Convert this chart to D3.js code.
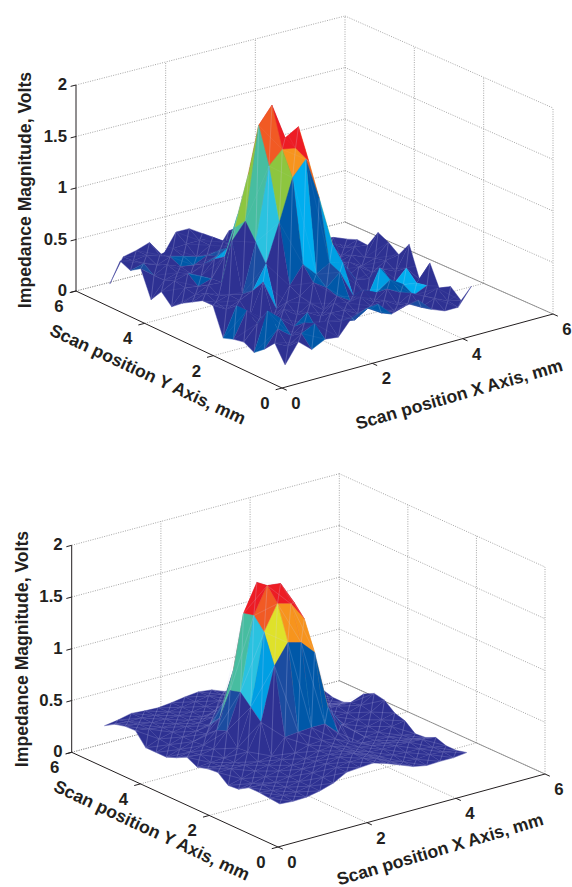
<!DOCTYPE html>
<html><head><meta charset="utf-8">
<script src="https://cdn.jsdelivr.net/npm/d3@7"></script>
<style>html,body{margin:0;padding:0;background:#fff}svg{display:block}text{font-family:"Liberation Sans",Arial,sans-serif;font-weight:bold;fill:#231f20}</style>
</head><body><svg id="c" width="572" height="887"></svg>
<script>
// ---------- DATA ----------
const axisTicks = [0,2,4,6];
const zTicks = [0,0.5,1,1.5,2];
const zTickLabels = ["0","0.5","1","1.5","2"];
const xTitle = "Scan position X Axis, mm";
const yTitle = "Scan position Y Axis, mm";
const zTitle = "Impedance Magnitude, Volts";

const scanX1 = [.67,.965,1.26,1.555,1.85,2.145,2.44,2.735,3.03,3.325,3.62,3.915,4.21,4.505,4.8];
const scanY1 = [.79,1.09,1.39,1.69,1.99,2.29,2.59,2.89,3.19,3.49,3.79,4.09,4.39,4.69,4.99,5.29,5.59,5.89];
const scanX2 = [1.19,1.49,1.79,2.09,2.39,2.69,2.99,3.29,3.59,3.89,4.19,4.49,4.79,5.09,5.39];
const scanY2 = [1.49,1.79,2.09,2.39,2.69,2.99,3.29,3.59,3.89,4.19,4.49,4.79,5.09,5.39,5.69,5.99,6.29,6.59];

// raw scan: rows follow scanY1, columns follow scanX1
const rawZ = [
[.02,.21,.10,.165,.15,.30,.35,.365,.235,.275,.30,.175,.125,.125,.295],
[.185,.12,.21,.27,.26,.22,.2,.28,.2,.18,.22,.15,.2,.14,.11],
[.08,.24,.14,.23,.12,.26,.25,.18,.22,.24,.16,.24,.18,.22,.2],
[.0,.37,.26,.15,.25,.18,.27,.24,.26,.18,.27,.2,.14,.2,.11],
[.055,.2,.12,.27,.18,.26,.16,.26,.18,.25,.19,.28,.2,.18,.34],
[.035,.28,.18,.14,.26,.28,.38,.295,.41,.15,.08,.35,.15,.28,.135],
[.0,.28,.14,.44,.148,.336,.51,.38,.457,.42,.22,.2,.26,.2,.43],
[.27,.2,.25,.31,.535,.905,1.306,1.45,1.04,.556,.2,.27,.18,.26,.285],
[.27,.22,.26,.23,.70,1.407,1.534,1.51,1.35,.3,.22,.27,.2,.24,.36],
[.21,.26,.2,.7,.86,1.755,1.917,1.565,1.64,.7,.25,.22,.26,.2,.41],
[.15,.2,.26,.25,.75,1.23,1.4,1.1,1.0,.5,.22,.25,.2,.26,.24],
[.07,.22,.2,.24,.42,.80,.85,.8,.6,.3,.2,.22,.28,.2,.25],
[.17,.24,.28,.22,.35,.42,.6,.5,.35,.28,.22,.2,.18,.26,.21],
[.045,.2,.24,.2,.26,.3,.35,.3,.3,.26,.24,.2,.26,.2,.1],
[.3,.2,.27,.22,.2,.26,.28,.28,.24,.28,.22,.26,.2,.24,.15],
[.235,.27,.22,.27,.24,.2,.28,.28,.28,.22,.26,.22,.26,.2,.2],
[.28,.25,.27,.24,.27,.28,.28,.28,.2,.26,.24,.26,.2,.24,.2],
[.01,.24,.27,.315,.155,.35,.35,.27,.05,.23,.25,.22,.25,.22,.25]
];
// facets of the raw scan whose colour differs from their first corner: [column,row,level]
const rawFacetLevels = [[0,5,.18],[2,0,.19],[0,2,.19],[1,2,.18],[3,2,.19],[3,14,.17],[4,14,.19],[2,11,.19],
 [10,4,.24],[12,4,.25],[12,3,.25],[9,4,.19],[10,3,.19],[11,3,.17],[10,12,.17],[7,4,.19],[11,4,.19],[9,11,.17]];

// filtered scan: rows follow scanY2, columns follow scanX2
const filteredZ = [
[.05,.04,.045,.07,.11,.18,.19,.2,.16,.11,.06,.035,.04,.04,.055],
[.06,.05,.05,.07,.12,.18,.2,.2,.16,.1,.06,.05,.06,.05,.03],
[.07,.05,.05,.07,.12,.17,.2,.2,.15,.1,.08,.07,.07,.05,.03],
[.07,.06,.05,.07,.11,.15,.18,.18,.14,.1,.09,.09,.09,.08,.065],
[.01,.03,.06,.08,.1,.13,.17,.18,.14,.1,.08,.07,.06,.04,.02],
[0,.03,.07,.09,.11,.14,.18,.19,.17,.11,.06,.05,.05,.03,.01],
[.08,.08,.08,.08,.1,.245,.26,.27,.27,.15,.0,.04,.05,.07,.09],
[.07,.06,.06,.13,.38,.89,1.08,1.045,.916,.35,.15,.05,.06,.09,.12],
[.04,.05,.06,.12,.48,1.17,1.41,1.375,1.195,.3,.12,.07,.08,.12,.2],
[.09,.08,.1,.24,.58,1.285,1.54,1.525,1.31,.55,.25,.1,.1,.14,.22],
[.04,.06,.09,.2,.55,1.26,1.525,1.42,1.0,.5,.2,.12,.12,.12,.17],
[0,.04,.08,.12,.24,.66,.8,.9,.6,.3,.15,.1,.08,.06,.04],
[0,.04,.08,.1,.12,.3,.35,.4,.3,.2,.12,.08,.05,.02,0],
[0,.05,.08,.1,.1,.12,.15,.18,.15,.12,.1,.06,.03,.01,0],
[.12,.1,.08,.08,.08,.08,.1,.1,.1,.08,.08,.06,.04,.03,.03],
[.115,.1,.08,.08,.08,.08,.1,.12,.1,.08,.08,.07,.06,.06,.06],
[.09,.08,.08,.07,.07,.08,.1,.12,.1,.07,.07,.07,.07,.06,.06],
[.03,.05,.08,.07,.065,.08,.10,.115,.10,.05,.06,.07,.08,.07,.05]
];
const filteredFacetLevels = [];

// colour bands of the printed colormap
const bandStops = [.15,.16,.21,.25,.27,.33,.40,.50,.58,.70,.76,.97];
const bandColors = ["#2e3192","#1b4ca0","#0058a8","#009fe3","#00aeef","#2ac2e0","#47bda0","#8dc63f","#dfe12a","#f7941d","#f15a24","#ed1c24","#be1e2d"];

// ---------- DRAW ----------
const svg = d3.select("#c");
const band = d3.scaleThreshold().domain(bandStops).range(bandColors);

function plot(cfg){
  const g = svg.append("g");
  const u = d3.scaleLinear().domain([0,6]).range([0,1]);
  const h = d3.scaleLinear().domain([0,2]).range([0,cfg.zPx]);
  const P = (x,y,z=0)=>{
    const a=u(x), b=u(y);
    const px=(1-a)*(1-b)*cfg.front[0]+a*(1-b)*cfg.right[0]+(1-a)*b*cfg.left[0]+a*b*cfg.back[0];
    const py=(1-a)*(1-b)*cfg.front[1]+a*(1-b)*cfg.right[1]+(1-a)*b*cfg.left[1]+a*b*cfg.back[1];
    return [px,py-h(z)];
  };
  const line = d3.line();
  const grid=(a,b,cls)=>g.append("path").attr("d",line([a,b])).attr("fill","none")
     .attr("stroke",cls==="edge"?"#8a8a8a":"#8f8f8f").attr("stroke-width",cls==="edge"?.9:.8)
     .attr("stroke-dasharray",cls==="edge"?null:"1 1.4");
  // walls and floor
  zTicks.forEach(z=>{ grid(P(0,6,z),P(6,6,z)); grid(P(6,6,z),P(6,0,z)); });
  [2,4].forEach(t=>{
    grid(P(t,6,0),P(t,6,2)); grid(P(6,t,0),P(6,t,2));
    grid(P(t,0,0),P(t,6,0)); grid(P(0,t,0),P(6,t,0));
  });
  grid(P(6,6,0),P(6,6,2)); grid(P(6,0,0),P(6,0,2));
  grid(P(6,6,0),P(6,0,0),"edge"); grid(P(0,6,0),P(6,6,0));

  // surface, painted from the far corner forward
  const Z=cfg.z, cells=[];
  const level=new Map(cfg.levels.map(d=>[d[0]+","+d[1],d[2]]));
  for(let j=0;j<Z.length-1;j++) for(let i=0;i<Z[0].length-1;i++) cells.push([i,j]);
  cells.sort((p,q)=>(q[0]+q[1])-(p[0]+p[1]));
  const S=g.append("g");
  cells.forEach(([i,j])=>{
    const n=(a,b)=>P(cfg.xs[a],cfg.ys[b],Z[b][a]);
    const A=n(i,j),B=n(i+1,j),C=n(i+1,j+1),D=n(i,j+1);
    const t=level.has(i+","+j)?level.get(i+","+j):Z[j][i]/cfg.zMax;
    const col=band(t);
    S.append("path").attr("d",line([A,B,C,D])+"Z").attr("fill",col).attr("stroke",col).attr("stroke-width",.4).attr("stroke-linejoin","round");
    S.append("path").attr("d",line([A,C])).attr("fill","none").attr("stroke","#d4d4f4").attr("stroke-opacity",cfg.diag).attr("stroke-width",.6);
    S.append("path").attr("d",line([B,D])+line([A,B])+line([A,D])).attr("fill","none").attr("stroke","#d4d4f4").attr("stroke-opacity",cfg.mesh).attr("stroke-width",.5);
  });

  // axes
  const ink="#231f20";
  const axis=(a,b)=>g.append("path").attr("d",line([a,b])).attr("stroke",ink).attr("stroke-width",1).attr("fill","none");
  axis(P(0,6,0),P(0,6,2));
  axis(P(0,0,0),P(0,6,0));
  axis(P(0,0,0),P(6,0,0));
  zTicks.forEach(z=>axis(P(0,6,z),P(-.12,6,z)));
  axisTicks.forEach(t=>{ axis(P(t,0,0),P(t,-.14,0)); axis(P(0,t,0),P(-.14,t,0)); });

  // tick labels
  const label=(s,x,y,anchor)=>g.append("text").attr("x",x).attr("y",y).attr("text-anchor",anchor||"middle")
     .attr("dy",".36em").attr("font-size",cfg.tickSize).text(s);
  zTicks.forEach((z,k)=>{const p=P(0,6,z); label(zTickLabels[k],p[0]-cfg.zLabelDx,p[1]-1,"end");});
  axisTicks.forEach(t=>{
    const a=P(t,0,0),b=P(0,t,0);
    label(String(t),a[0]+cfg.xLab[0],a[1]+cfg.xLab[1]);
    label(String(t),b[0]+cfg.yLab[0],b[1]+cfg.yLab[1]);
  });
  // titles
  const title=(s,c,rot)=>g.append("text").attr("transform",`translate(${c[0]},${c[1]}) rotate(${rot})`)
     .attr("text-anchor","middle").attr("dy",".36em").attr("font-size",cfg.titleSize).text(s);
  title(zTitle,cfg.zT,-90);
  title(yTitle,cfg.yT,cfg.yRot);
  title(xTitle,cfg.xT,cfg.xRot);
}

plot({front:[282,388],left:[76,291],right:[553,314],back:[345,222],zPx:206,z:rawZ,xs:scanX1,ys:scanY1,levels:rawFacetLevels,zMax:1.95,
  diag:.4,mesh:.14,tickSize:16.8,titleSize:17.6,zLabelDx:9,xLab:[14,15],yLab:[-17,15],
  zT:[25,190],yT:[148,374],xT:[459,394],yRot:25,xRot:-16});
plot({front:[278,847],left:[71.7,752.3],right:[545,774],back:[339.3,680.7],zPx:207,z:filteredZ,xs:scanX2,ys:scanY2,levels:filteredFacetLevels,zMax:1.56,
  diag:.42,mesh:.36,tickSize:16.8,titleSize:17.6,zLabelDx:9,xLab:[14,15],yLab:[-17,15],
  zT:[22,649],yT:[152,830],xT:[440,849],yRot:25,xRot:-16.5});
</script></body></html>
